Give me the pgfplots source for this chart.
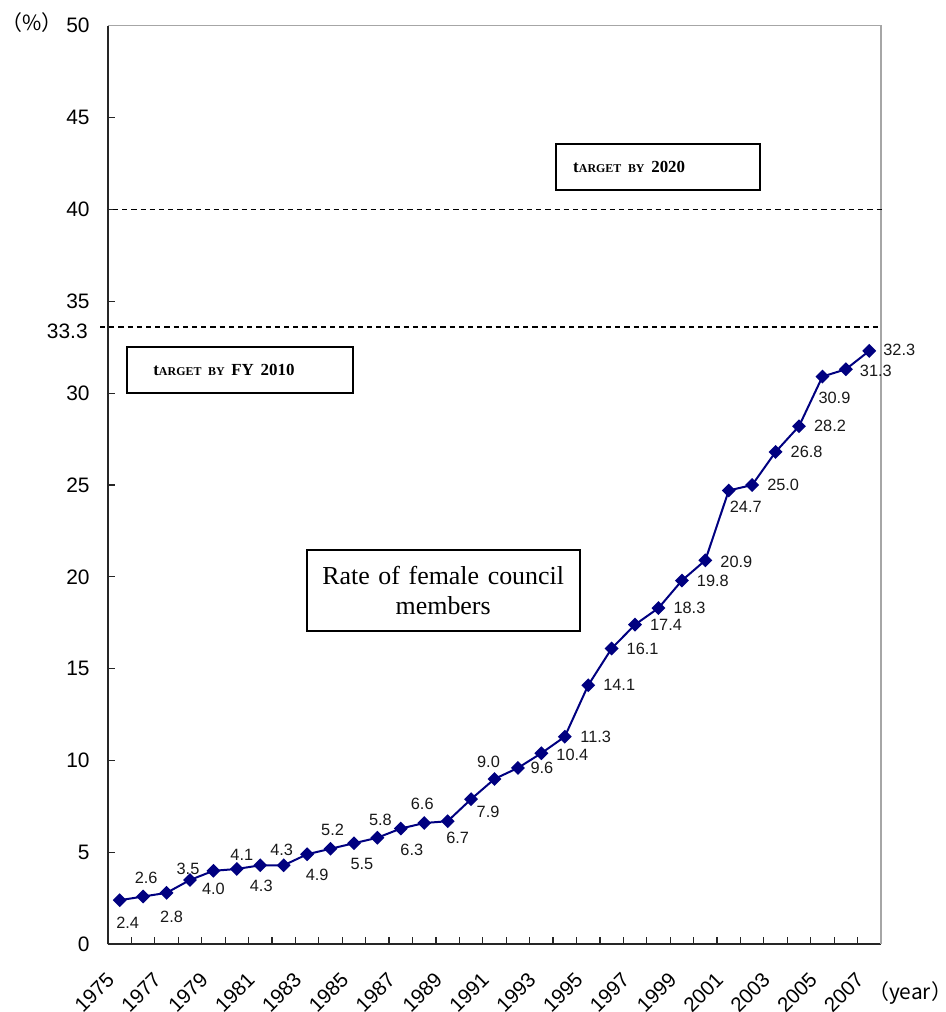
\documentclass[border=0pt]{standalone}
\usepackage{fontspec}
\setmainfont{Liberation Sans}
\newfontfamily\serifR{Liberation Serif}
\newfontfamily\cjk{Noto Sans CJK JP}
\usepackage{pgfplots}
\pgfplotsset{compat=1.18}
\usepackage{pgfplotstable}
\definecolor{navy}{RGB}{0,0,128}

% year index (0 = 1975), rate in %, label offset in bp
\pgfplotstableread{
x  y     dx    dy
0  2.4   4     -11.5
1  2.6   1.5   9.5
2  2.8   2.5   -12
3  3.5   -1    5.5
4  4.0   0     -9
5  4.1   2.5   7
6  4.3   0.5   -10.5
7  4.3   -1    7.5
8  4.9   5     -10.5
9  5.2   1     9.5
10 5.5   4     -10.5
11 5.8   1.5   9
12 6.3   5.5   -10.5
13 6.6   -1    9.5
14 6.7   5     -8.5
15 7.9   8.5   -6.5
16 9.0   -3    8.5
17 9.6   12    0
18 10.4  15.5 -1
19 11.3  15.5  0
20 14.1  15.5  0
21 16.1  15.5  0
22 17.4  15.5  0
23 18.3  15.5  0
24 19.8  15.5  0
25 20.9  15.5 -1
26 24.7  8.5  -8
27 25.0  15.5  0
28 26.8  15.5  0
29 28.2  15.5  0
30 30.9  6    -10.5
31 31.3  15   -1
32 32.3  15    0.5
}\rates

\newcommand\tgt{{\bfseries\serifR\fontsize{8.5}{10}\selectfont t\fontsize{6}{7}\selectfont ARGET BY}}

\begin{document}
\begin{tikzpicture}
\begin{axis}[
    scale only axis,
    width=386.5bp, height=459.3bp,
    xmin=-0.5, xmax=32.5,
    ymin=0, ymax=50,
    clip=false,
    axis x line*=bottom, axis y line*=left,
    axis line style={line width=1bp, black!85},
    tick align=inside,
    xtick={0,2,...,32},
    xticklabels={1975,1977,1979,1981,1983,1985,1987,1989,1991,1993,1995,1997,1999,2001,2003,2005,2007},
    minor xtick={-0.5,0.5,...,32.5},
    major x tick style={draw=none},
    minor tick length=3.5bp,
    major tick length=3.5bp,
    tick style={line width=0.6bp, black!85},
    ytick={0,5,...,50},
    /pgf/number format/assume math mode=true,
    yticklabel style={font=\fontsize{10.5}{12}\selectfont, inner sep=0pt, xshift=-9bp},
    xticklabel style={font=\fontsize{10.3}{12}\selectfont, inner sep=0pt, xshift=-4.5bp, yshift=-16bp, rotate=45, anchor=east},
]
\draw[gray!70, line width=0.7bp] (rel axis cs:0,1) -- (rel axis cs:1,1) -- (rel axis cs:1,0);

\addplot[black, line width=0.7bp, dash pattern=on 2.6bp off 2bp, forget plot]
    coordinates {(-0.29,40) (32.6,40)};
\addplot[black, line width=0.7bp, dash pattern=on 2.6bp off 2bp, forget plot]
    coordinates {(-0.84,33.6) (32.5,33.6)};

\addplot[navy, line width=1bp, mark=square*,
    mark size=1.95bp,
    mark options={rotate=45, solid, fill=navy, draw=navy},
    point meta=y,
    visualization depends on={\thisrow{dx} \as \dx},
    visualization depends on={\thisrow{dy} \as \dy},
    nodes near coords={\pgfmathprintnumber[fixed,fixed zerofill,precision=1,assume math mode=true]{\pgfplotspointmeta}},
    every node near coord/.append style={anchor=center, inner sep=0pt, text=black!90,
        font=\fontsize{8.2}{9}\selectfont, xshift=\dx bp, yshift=\dy bp},
] table[x=x, y=y] {\rates};

\node[font=\cjk\fontsize{10.5}{12}\selectfont] at (axis cs:-3.75,50.15) {（\%）};
\node[font=\cjk\fontsize{10.5}{12}\selectfont] at (axis cs:33.74,-2.65) {（year）};
\node[anchor=east, inner sep=0pt, font=\fontsize{10.5}{12}\selectfont] at (axis cs:-1.35,33.39) {33.3};

\node[draw, line width=1bp, inner xsep=8.5bp, inner ysep=0pt, text width=85bp,
      minimum height=23bp, align=left] at (axis cs:22.99,42.3) {\tgt\ {\bfseries\serifR\fontsize{8.5}{10}\selectfont 2020}};
\node[draw, line width=1bp, inner xsep=13bp, inner ysep=0pt, text width=87bp,
      minimum height=23bp, align=left] at (axis cs:5.15,31.25) {\tgt\ {\bfseries\serifR\fontsize{8.5}{10}\selectfont FY 2010}};
\node[draw, line width=1bp, inner xsep=0pt, inner ysep=0pt, text width=136.5bp,
      minimum height=40.5bp, align=center, font=\serifR\fontsize{13}{15}\selectfont]
      at (axis cs:13.81,19.26) {Rate of female council\\members};
\end{axis}
\pgfresetboundingbox
\useasboundingbox (-54bp,-33.85bp) rectangle (419bp,472.15bp);
\end{tikzpicture}
\end{document}
